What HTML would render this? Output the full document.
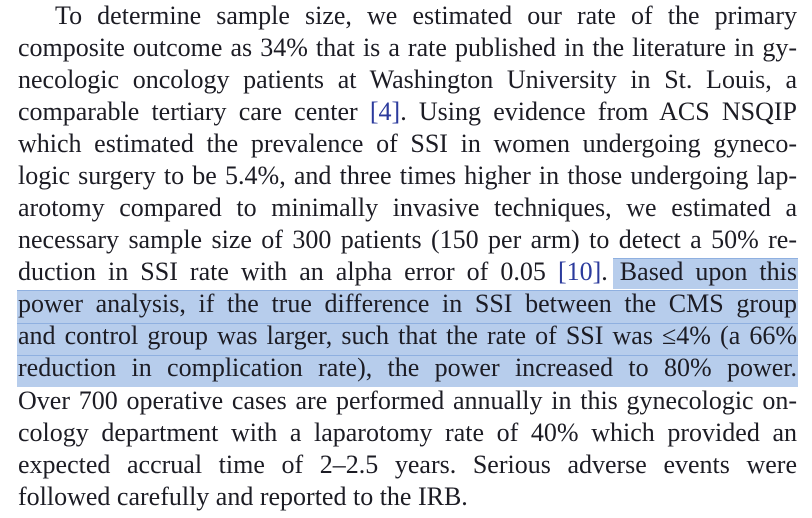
<!DOCTYPE html>
<html><head><meta charset="utf-8"><style>
html,body{margin:0;padding:0;background:#fff;width:812px;height:518px;overflow:hidden}
body{position:relative;font-family:"Liberation Serif",serif;font-size:26px;color:#1c1c24}
.hl{position:absolute;background:#b7cdec;border-top:1px solid #8fb0e0}
.l{position:absolute;left:18px;width:779px;height:32px;line-height:32px;white-space:nowrap;text-align:justify;text-align-last:justify}
.c{color:#2b3a9c}
</style></head><body>
<div class="hl" style="left:613px;top:258px;width:185px;height:30px"></div>
<div class="hl" style="left:17px;top:290px;width:781px;height:32px"></div>
<div class="hl" style="left:17px;top:323px;width:781px;height:31px"></div>
<div class="hl" style="left:17px;top:355px;width:781px;height:31px"></div>
<div class="l" style="top:0px;left:55px;width:742px">To determine sample size, we estimated our rate of the primary</div>
<div class="l" style="top:32px">composite outcome as 34% that is a rate published in the literature in gy-</div>
<div class="l" style="top:64px">necologic oncology patients at Washington University in St. Louis, a</div>
<div class="l" style="top:96px">comparable tertiary care center <span class="c">[4]</span>. Using evidence from ACS NSQIP</div>
<div class="l" style="top:128px">which estimated the prevalence of SSI in women undergoing gyneco-</div>
<div class="l" style="top:160px">logic surgery to be 5.4%, and three times higher in those undergoing lap-</div>
<div class="l" style="top:192px">arotomy compared to minimally invasive techniques, we estimated a</div>
<div class="l" style="top:224px">necessary sample size of 300 patients (150 per arm) to detect a 50% re-</div>
<div class="l" style="top:256px">duction in SSI rate with an alpha error of 0.05 <span class="c">[10]</span>. Based upon this</div>
<div class="l" style="top:288px">power analysis, if the true difference in SSI between the CMS group</div>
<div class="l" style="top:320px">and control group was larger, such that the rate of SSI was ≤4% (a 66%</div>
<div class="l" style="top:352px">reduction in complication rate), the power increased to 80% power.</div>
<div class="l" style="top:385px">Over 700 operative cases are performed annually in this gynecologic on-</div>
<div class="l" style="top:417px">cology department with a laparotomy rate of 40% which provided an</div>
<div class="l" style="top:449px">expected accrual time of 2–2.5 years. Serious adverse events were</div>
<div class="l" style="top:481px;text-align:left;text-align-last:left">followed carefully and reported to the IRB.</div>
</body></html>
